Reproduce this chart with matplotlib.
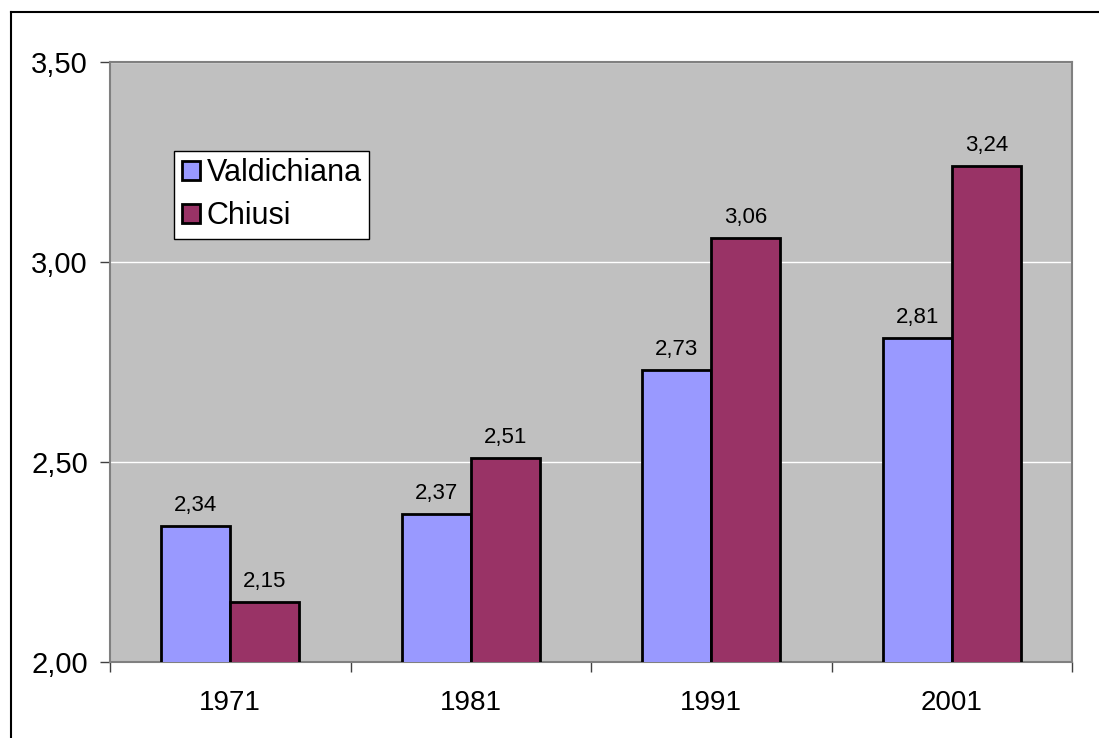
import matplotlib.pyplot as plt
import numpy as np
from matplotlib.lines import Line2D
from matplotlib.ticker import FuncFormatter

plt.rcParams["font.family"] = ["Liberation Sans", "DejaVu Sans"]

years = ["1971", "1981", "1991", "2001"]
valdichiana = [2.34, 2.37, 2.73, 2.81]
chiusi = [2.15, 2.51, 3.06, 3.24]
series_names = ["Valdichiana", "Chiusi"]
yticks = [2.0, 2.5, 3.0, 3.5]


def comma(v, _pos=None):
    return f"{v:.2f}".replace(".", ",")


W, H = 1099, 738
fig = plt.figure(figsize=(W / 100, H / 100), dpi=100)
ax = fig.add_axes([110 / W, (H - 662) / H, 962 / W, 600 / H])
ax.set_facecolor("#C0C0C0")

x = np.arange(len(years))
bw = 0.287
bars_v = ax.bar(x - bw / 2, valdichiana, bw, color="#9999FF",
                edgecolor="black", linewidth=2, label=series_names[0], zorder=3)
bars_c = ax.bar(x + bw / 2, chiusi, bw, color="#993366",
                edgecolor="black", linewidth=2, label=series_names[1], zorder=3)

for bars, vals in ((bars_v, valdichiana), (bars_c, chiusi)):
    for b, v in zip(bars, vals):
        ax.annotate(comma(v), (b.get_x() + b.get_width() / 2, v),
                    xytext=(0, 7), textcoords="offset points",
                    ha="center", va="bottom", fontsize=16)

ax.set_ylim(2.0, 3.5)
ax.set_xlim(-0.5, len(years) - 0.5)
ax.set_yticks(yticks)
ax.yaxis.set_major_formatter(FuncFormatter(comma))
ax.yaxis.grid(True, color="white", linewidth=1, zorder=1)
ax.set_axisbelow(True)

# category labels at centers, tick marks at the boundaries
ax.set_xticks(x)
ax.set_xticklabels(years)
ax.set_xticks(np.arange(-0.5, len(years)), minor=True)
ax.tick_params(axis="x", which="major", length=0, pad=20, labelsize=20)
ax.tick_params(axis="x", which="minor", length=7, width=1, color="#404040")
ax.tick_params(axis="y", length=7, width=1, color="#404040", pad=9, labelsize=21)

for s in ax.spines.values():
    s.set_color("#808080")
    s.set_linewidth(1.5)

leg = ax.legend(loc="upper left", bbox_to_anchor=(0.067, 0.852), fontsize=22,
                frameon=True, fancybox=False, edgecolor="black", facecolor="white",
                framealpha=1, handlelength=0.6, handleheight=0.6, handletextpad=0.2,
                borderpad=0.25, labelspacing=0.42, borderaxespad=0)
leg.get_frame().set_linewidth(1)

# outer chart border
fig.add_artist(Line2D([11 / W, 1], [1 - 12 / H, 1 - 12 / H], color="black", linewidth=1.5))
fig.add_artist(Line2D([11 / W, 11 / W], [0, 1 - 12 / H], color="black", linewidth=1.5))

fig.savefig("out.png", dpi=100)
